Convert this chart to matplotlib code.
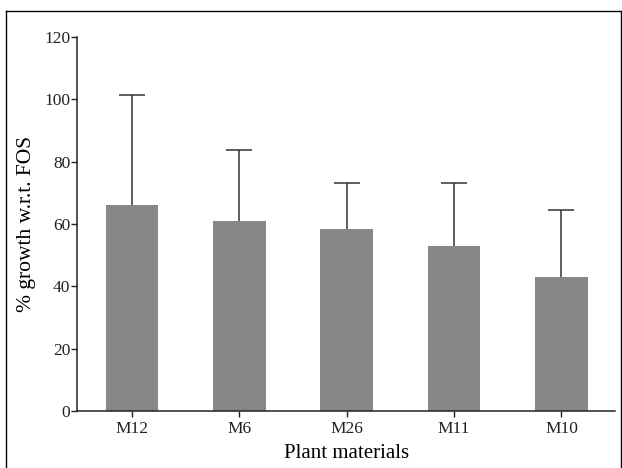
import matplotlib
matplotlib.use("Agg")
import matplotlib.pyplot as plt
from matplotlib.lines import Line2D

materials = ["M12", "M6", "M26", "M11", "M10"]
growth_mean = [66.0, 61.0, 58.5, 52.8, 43.0]
growth_err = [35.3, 22.8, 14.5, 20.4, 21.5]
y_ticks = [0, 20, 40, 60, 80, 100, 120]

plt.rcParams["font.family"] = ["Liberation Serif", "DejaVu Serif"]

fig = plt.figure(figsize=(6.22, 4.68), dpi=100)
ax = fig.add_axes([0.124, 0.122, 0.865, 0.799])

x = list(range(len(materials)))
ax.bar(x, growth_mean, width=0.49, color="#878787", edgecolor="none", zorder=2)
eb = ax.errorbar(x, growth_mean, yerr=[[0] * len(x), growth_err], fmt="none",
                 ecolor="#333333", elinewidth=1.1, capsize=9.5, capthick=1.1, zorder=1)
# only the upper whisker cap, like the original
eb[1][0].set_visible(False)

ax.set_xlim(-0.51, 4.5)
ax.set_ylim(0, 120)
ax.set_yticks(y_ticks)
ax.set_xticks(x)
ax.set_xticklabels(materials)

for side in ["top", "right"]:
    ax.spines[side].set_visible(False)
for side in ["left", "bottom"]:
    ax.spines[side].set_color("#222222")
    ax.spines[side].set_linewidth(1.1)

ax.tick_params(axis="y", direction="out", length=4, width=1, labelsize=12.5, pad=1, colors="#222222")
ax.tick_params(axis="x", direction="out", length=4, width=1, labelsize=12.5, pad=3, colors="#222222")

ax.set_ylabel("% growth w.r.t. FOS", fontsize=15.5, labelpad=6)
ax.set_xlabel("Plant materials", fontsize=15, labelpad=5)

# outer frame around the figure
fx0, fx1 = 6 / 622, 621 / 622
fy1 = 1 - 11 / 468
for xs, ys in [([fx0, fx0], [0, fy1]), ([fx0, fx1], [fy1, fy1]), ([fx1, fx1], [0, fy1])]:
    fig.add_artist(Line2D(xs, ys, color="black", linewidth=1.0, transform=fig.transFigure))

fig.savefig("out.png", dpi=100)
